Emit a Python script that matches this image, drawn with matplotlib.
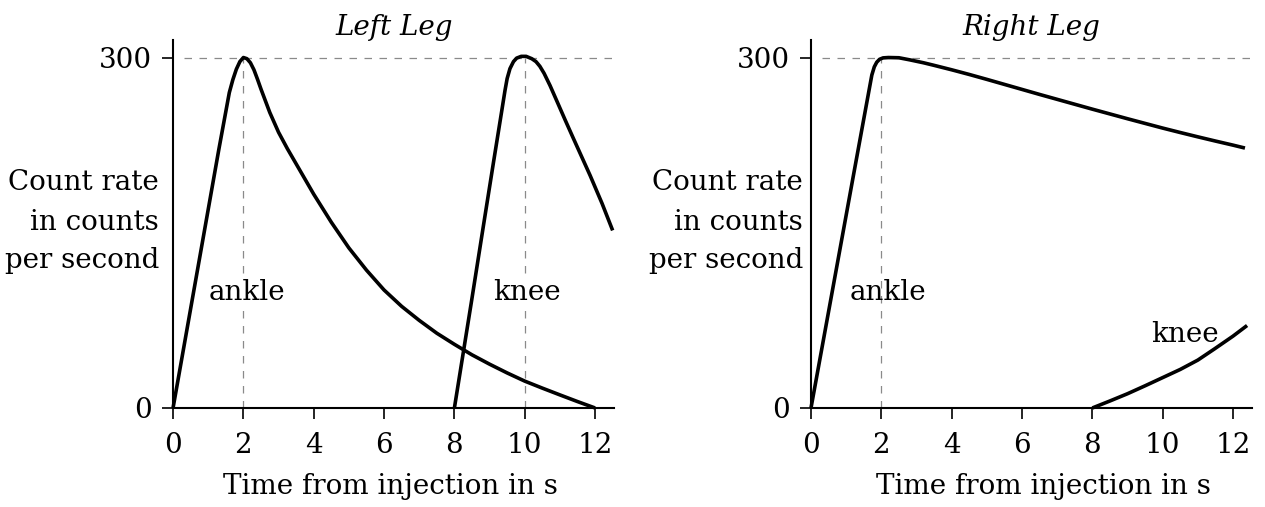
import matplotlib
matplotlib.use('Agg')
import matplotlib.pyplot as plt

plt.rcParams['font.family'] = ['DejaVu Serif']

# values (time in s, count rate in counts per second)
left_ankle_t = [0, 1.3, 1.6, 1.7, 1.8, 1.9, 2.0, 2.1, 2.2, 2.3, 2.4, 2.5, 2.75, 3.0, 3.25, 3.5, 4.0,
                4.5, 5.0, 5.5, 6.0, 6.5, 7.0, 7.5, 8.0, 8.5, 9.0, 9.5, 10.0, 10.5, 11.0, 11.5, 12.0]
left_ankle_c = [0, 221, 270, 281, 290, 296.5, 300, 299, 295.5, 289.5, 281.5, 273, 253, 236, 222, 209, 183,
                159, 137, 118, 101, 87, 75, 64, 54.5, 45.5, 37.5, 30, 23, 17, 11.2, 5.5, 0]

left_knee_t = [8.0, 8.49, 8.82, 9.11, 9.35, 9.44, 9.5, 9.58, 9.68, 9.77, 9.9, 10.04, 10.2, 10.32,
               10.43, 10.55, 10.72, 10.91, 11.15, 11.38, 11.62, 11.86, 12.2, 12.5]
left_knee_c = [0, 92, 155, 210, 255, 272, 282, 290.5, 296.5, 299.5, 301, 301, 299, 296.5,
               292.5, 286.5, 276, 263, 246.5, 231, 215, 199, 175, 152]

right_ankle_t = [0, 1.2, 1.73, 1.8, 1.87, 1.95, 2.05, 2.2, 2.5, 2.81, 3.2, 3.5, 4.0, 4.5, 5.0,
                 5.5, 6.0, 6.5, 7.0, 7.5, 8.0, 8.5, 9.0, 9.5, 10.0, 10.5, 11.0, 11.5, 12.0, 12.34]
right_ankle_c = [0, 198, 285, 292, 296, 298.5, 299.7, 300, 299.8, 298, 295.5, 293.3, 289.5, 285.5,
                 281.3, 277, 272.7, 268.4, 264.2, 260, 255.8, 251.7, 247.6, 243.6, 239.6, 235.8,
                 232.1, 228.5, 225, 222.5]

right_knee_t = [8.0, 8.5, 9.0, 9.5, 10.0, 10.5, 11.0, 11.47, 12.0, 12.4]
right_knee_c = [0, 6, 12.2, 19, 26, 33, 41, 50.5, 61.5, 70.6]

xticks = [0, 2, 4, 6, 8, 10, 12]
yticks = [0, 300]
peak = 300
ylabel_lines = ['Count rate', 'in counts', 'per second']

fs = 20
fig = plt.figure(figsize=(12.65, 5.07), dpi=100)
axL = fig.add_axes([0.1368, 0.1953, 0.3489, 0.7258])
axR = fig.add_axes([0.6411, 0.1953, 0.3489, 0.7258])


def setup(ax, title, label_x):
    ax.set_xlim(0, 12.55)
    ax.set_ylim(0, 315)
    for s in ['top', 'right']:
        ax.spines[s].set_visible(False)
    for s in ['left', 'bottom']:
        ax.spines[s].set_linewidth(1.5)
    ax.set_xticks(xticks)
    ax.set_yticks(yticks)
    ax.tick_params(direction='out', length=8, width=1.2, labelsize=fs)
    ax.tick_params(axis='x', pad=9)
    ax.tick_params(axis='y', pad=7)
    ax.set_facecolor('none')
    # dashed guide at 300
    ax.plot([0.3, 12.55], [peak, peak], color='#8a8a8a', lw=0.9, dashes=(6, 6),
            clip_on=False)
    ax.text(6.28, 326, title, style='italic', fontsize=fs, ha='center', va='center',
            clip_on=False)
    ax.text(label_x, -67, 'Time from injection in s', fontsize=fs, ha='center',
            va='center', clip_on=False)


setup(axL, 'Left Leg', 6.18)
setup(axR, 'Right Leg', 6.62)

for ax, xr in [(axL, -0.4), (axR, -0.23)]:
    for yv, line in zip([193, 159, 126.6], ylabel_lines):
        ax.text(xr, yv, line, fontsize=fs, ha='right', va='center', clip_on=False)

# vertical guides
axL.plot([2, 2], [0, peak], color='#8a8a8a', lw=0.9, dashes=(6, 6))
axL.plot([10, 10], [0, peak], color='#8a8a8a', lw=0.9, dashes=(6, 6))
axR.plot([2, 2], [0, peak], color='#8a8a8a', lw=0.9, dashes=(6, 6))

kw = dict(color='black', lw=2.6, solid_capstyle='butt', solid_joinstyle='round', clip_on=False)
axL.plot(left_ankle_t, left_ankle_c, **kw)
axL.plot(left_knee_t, left_knee_c, **kw)
axR.plot(right_ankle_t, right_ankle_c, **kw)
axR.plot(right_knee_t, right_knee_c, **kw)

axL.text(2.09, 99, 'ankle', fontsize=fs, ha='center', va='center',
         bbox=dict(fc='white', ec='none', pad=1))
axL.text(10.05, 99, 'knee', fontsize=fs, ha='center', va='center',
         bbox=dict(fc='white', ec='none', pad=1))
axR.text(2.18, 99, 'ankle', fontsize=fs, ha='center', va='center')
axR.text(10.62, 63, 'knee', fontsize=fs, ha='center', va='center')

fig.savefig('out.png', dpi=100)
